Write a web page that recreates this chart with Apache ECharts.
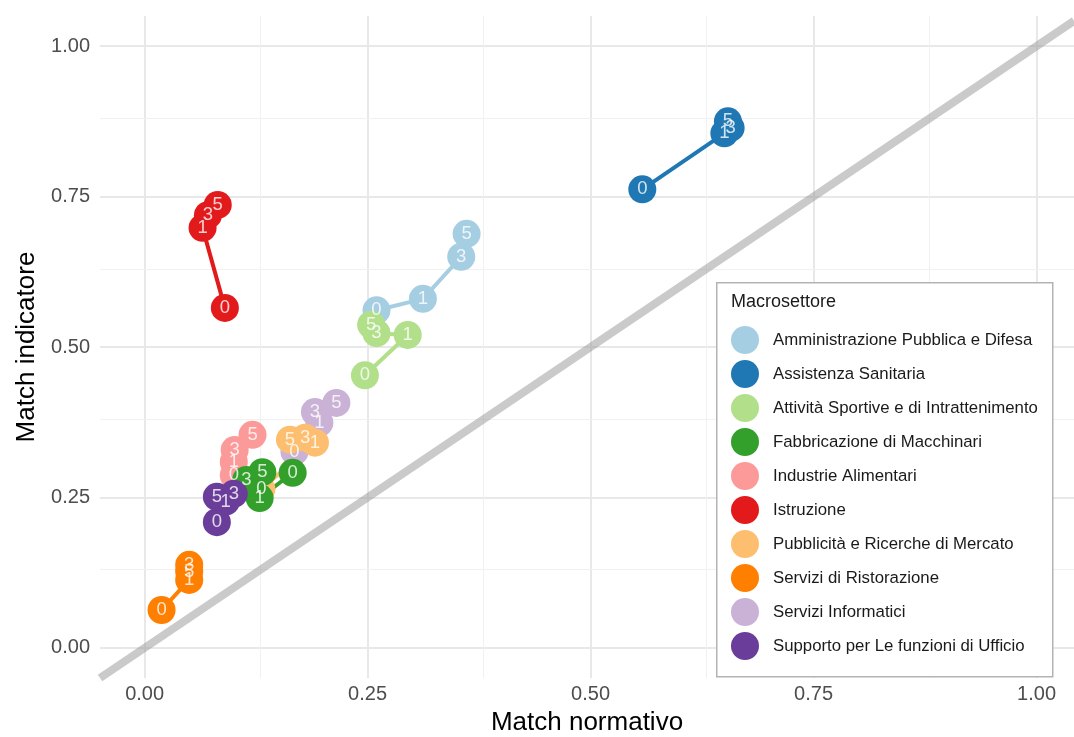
<!DOCTYPE html>
<html>
<head>
<meta charset="utf-8">
<script src="https://cdn.jsdelivr.net/npm/echarts@6/dist/echarts.min.js"></script>
<style>
	html, body { margin: 0; padding: 0; background: #fff; }
	#chart_div { width: 1074px; height: 737px; }
</style>
</head>
<body>
<div id="chart_div"></div>
<script>
// anni (etichette dei punti)
var anni = [ '0', '1', '3', '5' ];

var settori = [ 'Amministrazione Pubblica e Difesa', 'Assistenza Sanitaria',
		'Attività Sportive e di Intrattenimento', 'Fabbricazione di Macchinari',
		'Industrie Alimentari', 'Istruzione', 'Pubblicità e Ricerche di Mercato',
		'Servizi di Ristorazione', 'Servizi Informatici',
		'Supporto per Le funzioni di Ufficio' ];

// una riga per settore, una colonna per anno (0, 1, 3, 5)
var matchNormativo = [
	[ 0.260, 0.312, 0.355, 0.361 ],
	[ 0.558, 0.650, 0.657, 0.654 ],
	[ 0.247, 0.295, 0.260, 0.254 ],
	[ 0.166, 0.129, 0.114, 0.132 ],
	[ 0.100, 0.100, 0.101, 0.121 ],
	[ 0.090, 0.065, 0.071, 0.082 ],
	[ 0.131, 0.191, 0.180, 0.163 ],
	[ 0.019, 0.050, 0.050, 0.050 ],
	[ 0.168, 0.196, 0.191, 0.215 ],
	[ 0.081, 0.091, 0.100, 0.081 ] ];

var matchIndicatore = [
	[ 0.561, 0.580, 0.650, 0.688 ],
	[ 0.762, 0.855, 0.864, 0.875 ],
	[ 0.453, 0.520, 0.523, 0.537 ],
	[ 0.291, 0.249, 0.279, 0.292 ],
	[ 0.287, 0.309, 0.329, 0.354 ],
	[ 0.565, 0.698, 0.719, 0.736 ],
	[ 0.264, 0.341, 0.349, 0.346 ],
	[ 0.063, 0.113, 0.138, 0.127 ],
	[ 0.326, 0.374, 0.392, 0.407 ],
	[ 0.209, 0.243, 0.256, 0.251 ] ];

var tickMaggiori = [ 0, 0.25, 0.5, 0.75, 1 ];
var tickMinori = [ 0.125, 0.375, 0.625, 0.875 ];

var xMin = -0.05, xMax = 1.042;
var yMin = -0.05, yMax = 1.05;

var colori = [ '#A6CEE3', '#1F78B4', '#B2DF8A', '#33A02C', '#FB9A99',
		'#E31A1C', '#FDBF6F', '#FF7F00', '#CAB2D6', '#6A3D9A' ];
// ordine di disegno dei punti (chi sta sopra a chi)
var ordinePunti = [ 0, 1, 2, 4, 5, 8, 6, 3, 7, 9 ];

var font = 'Liberation Sans, Arial, sans-serif';
var mychart = echarts.init(document.getElementById('chart_div'));

function punti(i) {
	return anni.map(function(a, j) {
		return [ matchNormativo[i][j], matchIndicatore[i][j], a ];
	});
}

var series = [];

// griglia
var gridLines = [];
tickMaggiori.forEach(function(v) {
	gridLines.push({ xAxis : v, lineStyle : { color : '#e8e8e8', width : 2, type : 'solid' } });
	gridLines.push({ yAxis : v, lineStyle : { color : '#e8e8e8', width : 2, type : 'solid' } });
});
tickMinori.forEach(function(v) {
	gridLines.push({ xAxis : v, lineStyle : { color : '#f1f1f1', width : 1, type : 'solid' } });
	gridLines.push({ yAxis : v, lineStyle : { color : '#f1f1f1', width : 1, type : 'solid' } });
});
series.push({
	type : 'line',
	name : 'griglia',
	data : [],
	z : 0,
	silent : true,
	markLine : {
		silent : true,
		z : 0,
		symbol : [ 'none', 'none' ],
		label : { show : false },
		emphasis : { disabled : true },
		animation : false,
		data : gridLines
	}
});

// bisettrice y = x
series.push({
	type : 'line',
	name : 'bisettrice',
	data : [ [ xMin, xMin ], [ xMax, xMax ] ],
	symbol : 'none',
	z : 1,
	silent : true,
	lineStyle : { color : 'rgba(150,150,150,0.5)', width : 8 }
});

// percorsi
settori.forEach(function(s, i) {
	series.push({
		type : 'line',
		name : s,
		data : punti(i),
		symbol : 'none',
		z : 2,
		silent : true,
		itemStyle : { color : colori[i] },
		lineStyle : { color : colori[i], width : 4 }
	});
});

// punti
ordinePunti.forEach(function(i) {
	series.push({
		type : 'scatter',
		name : settori[i],
		data : punti(i),
		symbolSize : 28,
		z : 3,
		silent : true,
		itemStyle : { color : colori[i], opacity : 1 }
	});
});

// etichette sopra a tutti i punti
var etichette = [];
ordinePunti.forEach(function(i) {
	etichette = etichette.concat(punti(i));
});
series.push({
	type : 'scatter',
	name : 'etichette',
	data : etichette,
	symbolSize : 1,
	z : 4,
	silent : true,
	itemStyle : { color : 'rgba(0,0,0,0)' },
	label : {
		show : true,
		position : 'inside',
		formatter : function(p) { return p.value[2]; },
		color : '#ffffff',
		fontSize : 18.5,
		fontFamily : font,
		textBorderWidth : 0
	}
});

var option = {
	animation : false,
	backgroundColor : '#ffffff',
	grid : {
		left : 100,
		top : 16,
		width : 974,
		height : 662,
		outerBoundsMode : 'none',
		containLabel : false
	},
	xAxis : {
		type : 'value',
		min : xMin,
		max : xMax,
		name : 'Match normativo',
		nameLocation : 'middle',
		nameGap : 32,
		nameTextStyle : { fontSize : 26, color : '#000', fontFamily : font },
		axisLine : { show : false },
		axisTick : { show : false },
		splitLine : { show : false },
		axisLabel : {
			customValues : tickMaggiori,
			formatter : function(v) { return v.toFixed(2); },
			color : '#4d4d4d',
			fontSize : 20,
			fontFamily : font,
			margin : 6
		}
	},
	yAxis : {
		type : 'value',
		min : yMin,
		max : yMax,
		name : 'Match indicatore',
		nameLocation : 'middle',
		nameGap : 59,
		nameTextStyle : { fontSize : 26, color : '#000', fontFamily : font },
		axisLine : { show : false },
		axisTick : { show : false },
		splitLine : { show : false },
		axisLabel : {
			customValues : tickMaggiori,
			formatter : function(v) { return v.toFixed(2); },
			color : '#4d4d4d',
			fontSize : 20,
			fontFamily : font,
			margin : 10
		}
	},
	legend : {
		data : settori,
		orient : 'vertical',
		left : 716,
		top : 282,
		padding : [ 44, 14, 16, 15 ],
		itemWidth : 28,
		itemHeight : 28,
		itemGap : 6,
		icon : 'circle',
		selectedMode : false,
		z : 7,
		textStyle : {
			fontSize : 16.8,
			color : '#1a1a1a',
			fontFamily : font,
			padding : [ 0, 0, 0, 9 ]
		}
	},
	graphic : [ {
		type : 'rect',
		left : 716,
		top : 282,
		z : 5,
		shape : { width : 336, height : 394 },
		style : { fill : '#ffffff', stroke : '#b3b3b3', lineWidth : 1.5 }
	}, {
		type : 'text',
		left : 731,
		top : 293,
		z : 6,
		style : {
			text : 'Macrosettore',
			fontSize : 18,
			fill : '#1a1a1a',
			fontFamily : font
		}
	} ],
	series : series
};
mychart.setOption(option);
</script>
</body>
</html>
